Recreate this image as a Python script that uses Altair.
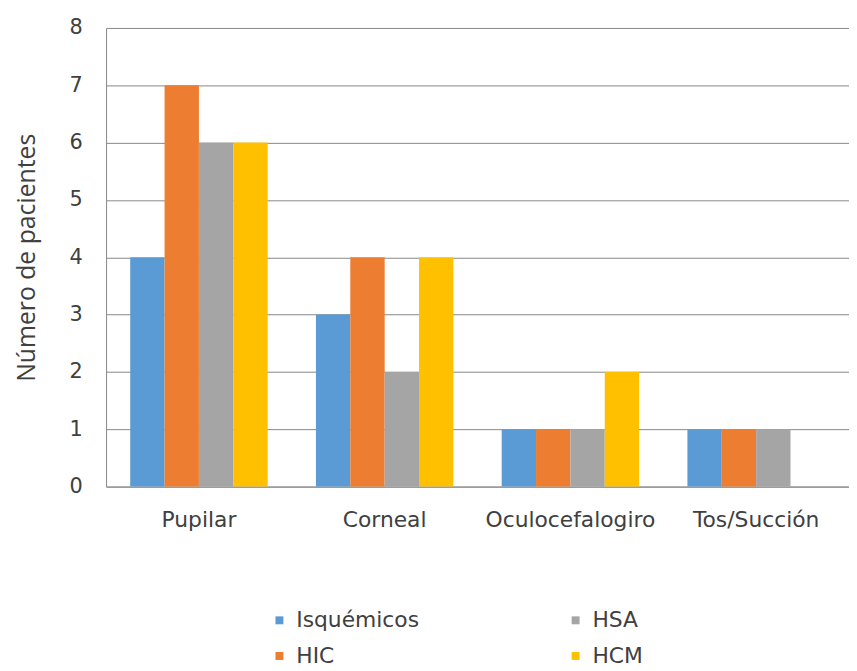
import altair as alt
import pandas as pd

categories = ["Pupilar", "Corneal", "Oculocefalogiro", "Tos/Succión"]
series = ["Isquémicos", "HIC", "HSA", "HCM"]
isquemicos = [4, 3, 1, 1]
hic = [7, 4, 1, 1]
hsa = [6, 2, 1, 1]
hcm = [6, 4, 2, 0]
colors = ["#5B9BD5", "#ED7D31", "#A5A5A5", "#FFC000"]
y_ticks = [0, 1, 2, 3, 4, 5, 6, 7, 8]

values = {"Isquémicos": isquemicos, "HIC": hic, "HSA": hsa, "HCM": hcm}
rows = []
for s in series:
    for c, v in zip(categories, values[s]):
        rows.append({"cat": c, "serie": s, "val": v})
df = pd.DataFrame(rows)

chart = alt.Chart(df).mark_bar().encode(
    x=alt.X("cat:N", sort=categories, title=None,
            scale=alt.Scale(paddingInner=0.26, paddingOuter=0.13),
            axis=alt.Axis(labelAngle=0, labelFont="DejaVu Sans", labelFontSize=22,
                          labelColor="#404040", ticks=False, domainColor="#888888",
                          labelPadding=23, grid=False, labelLimit=300)),
    xOffset=alt.XOffset("serie:N", sort=series, scale=alt.Scale(paddingInner=0, paddingOuter=0)),
    y=alt.Y("val:Q", title="Número de pacientes",
            scale=alt.Scale(domain=[0, 8], nice=False),
            axis=alt.Axis(values=y_ticks, labelOverlap=False, labelFont="DejaVu Sans", labelFontSize=21,
                          labelColor="#404040", ticks=False, domainColor="#888888",
                          grid=True, gridColor="#888888", gridOpacity=1, labelPadding=24,
                          titleFont="Open Sans", titleFontSize=25, titleFontWeight="normal",
                          titleColor="#404040", titlePadding=30)),
    color=alt.Color("serie:N",
                    scale=alt.Scale(domain=series, range=colors),
                    legend=alt.Legend(title=None, orient="none", legendX=164, legendY=587,
                                      columns=2, columnPadding=147, rowPadding=14,
                                      symbolType="square", symbolSize=64, symbolStrokeWidth=0,
                                      labelFont="DejaVu Sans", labelFontSize=22,
                                      labelColor="#404040", labelOffset=6, labelLimit=300)),
).properties(
    width=750, height=463,
    padding={"left": 99, "top": 17, "right": 0, "bottom": 183},
    autosize=alt.AutoSizeParams(type="none"),
).configure_view(stroke=None)

chart.save("out.html", embed_options={"renderer": "svg", "actions": False})
